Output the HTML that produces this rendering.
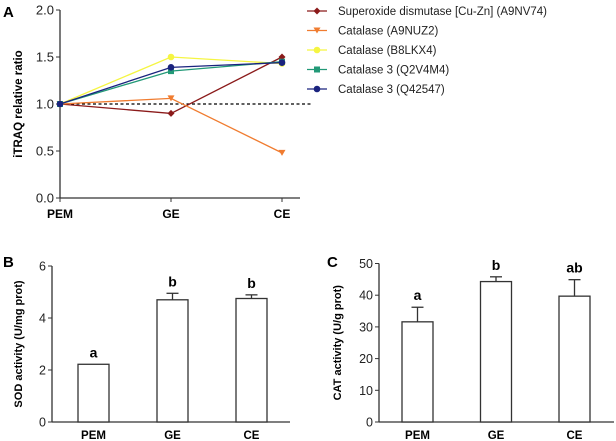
<!DOCTYPE html>
<html><head><meta charset="utf-8"><style>
body{margin:0;background:#fff;}
svg{display:block;font-family:"Liberation Sans",Arial,sans-serif;}
</style></head><body>
<svg id="fig" width="616" height="441" viewBox="0 0 616 441"></svg>
<script>
const lineCats=["PEM","GE","CE"];
const seriesNames=["Superoxide dismutase [Cu-Zn] (A9NV74)","Catalase (A9NUZ2)","Catalase (B8LKX4)","Catalase 3 (Q2V4M4)","Catalase 3 (Q42547)"];
const seriesColors=["#8b1a1a","#f07c30","#f5f542","#229977","#1a237e"];
const seriesMarkers=["diamond","tri","circle","square","circle"];
const sodVals=[1,0.9,1.5];
const catA9NUZ2=[1,1.06,0.48];
const catB8LKX4=[1,1.5,1.43];
const cat3Q2V4M4=[1,1.35,1.45];
const cat3Q42547=[1,1.39,1.44];
const lineTicks=[0,0.5,1,1.5,2];
const barCats=["PEM","GE","CE"];
const sodMeans=[2.22,4.7,4.75];
const sodErr=[0,0.25,0.14];
const sodLetters=["a","b","b"];
const sodTicks=[0,2,4,6];
const catMeans=[31.6,44.3,39.7];
const catErr=[4.6,1.5,5.2];
const catLetters=["a","b","ab"];
const catTicks=[0,10,20,30,40,50];

const svg=document.getElementById('fig');
const NS="http://www.w3.org/2000/svg";
function mk(tag,attrs,parent){const e=document.createElementNS(NS,tag);for(const k in attrs)e.setAttribute(k,attrs[k]);(parent||svg).appendChild(e);return e;}
function txt(x,y,s,attrs){const e=mk('text',Object.assign({x:x,y:y},attrs));e.textContent=s;return e;}

// Panel A
const ax={x0:60,x1:300,y0:198,y1:10,min:0,max:2};
const yA=v=>ax.y0-(v-ax.min)/(ax.max-ax.min)*(ax.y0-ax.y1);
const xA=i=>60+i*111;
let t=txt(3,17,"A",{'font-size':15,'font-weight':'bold'});

let g=mk('line',{x1:ax.x0,y1:ax.y1,x2:ax.x0,y2:ax.y0,stroke:'#333','stroke-width':1.3});

g=mk('line',{x1:ax.x0,y1:ax.y0,x2:ax.x1,y2:ax.y0,stroke:'#333','stroke-width':1.3});

lineTicks.forEach(v=>{mk('line',{x1:ax.x0-4,y1:yA(v),x2:ax.x0,y2:yA(v),stroke:'#333'});
 const e=txt(ax.x0-6,yA(v)+4.5,v.toFixed(1),{'font-size':13,'text-anchor':'end',fill:'#222'});
 });
lineCats.forEach((c,i)=>{mk('line',{x1:xA(i),y1:ax.y0,x2:xA(i),y2:ax.y0+4,stroke:'#333'});
 const e=txt(xA(i),ax.y0+20,c,{'font-size':12,'font-weight':'bold','text-anchor':'middle'});
 });
t=txt(0,0,"iTRAQ relative ratio",{'font-size':11.5,'font-weight':'bold','text-anchor':'middle',transform:'translate(22,104) rotate(-90)'});

g=mk('line',{x1:ax.x0,y1:yA(1),x2:ax.x1+12,y2:yA(1),stroke:'#000','stroke-width':1.3,'stroke-dasharray':'3,2.5'});

function marker(type,x,y,col,parent){
 if(type==='diamond')return mk('polygon',{points:`${x},${y-3.5} ${x+3.5},${y} ${x},${y+3.5} ${x-3.5},${y}`,fill:col},parent);
 if(type==='tri')return mk('polygon',{points:`${x-3.5},${y-3} ${x+3.5},${y-3} ${x},${y+3}`,fill:col},parent);
 if(type==='square')return mk('rect',{x:x-3,y:y-3,width:6,height:6,fill:col},parent);
 return mk('circle',{cx:x,cy:y,r:3.3,fill:col},parent);
}
const allSeries=[sodVals,catA9NUZ2,catB8LKX4,cat3Q2V4M4,cat3Q42547];
allSeries.forEach((vals,s)=>{
 const grp=mk('g',{});
 
 mk('polyline',{points:vals.map((v,i)=>xA(i)+','+yA(v)).join(' '),fill:'none',stroke:seriesColors[s],'stroke-width':1.3},grp);
 vals.forEach((v,i)=>{const m=marker(seriesMarkers[s],xA(i),yA(v),seriesColors[s],grp);
  });
});
seriesNames.forEach((n,s)=>{
 const y=11+s*19.5;
 const grp=mk('g',{});
 
 mk('line',{x1:307,y1:y,x2:327,y2:y,stroke:seriesColors[s],'stroke-width':1.3},grp);
 marker(seriesMarkers[s],317,y,seriesColors[s],grp);
 const e=txt(338,y+4,n,{'font-size':11.5,fill:'#222'},grp);grp.appendChild(e);
});

// Bar panels
function barPanel(cfg){
 const yS=v=>cfg.y0-v/cfg.max*(cfg.y0-cfg.y1);
 let e=txt(cfg.lx,cfg.ly,cfg.label,{'font-size':15,'font-weight':'bold'});
 
 e=mk('line',{x1:cfg.x0,y1:cfg.y1,x2:cfg.x0,y2:cfg.y0,stroke:'#333','stroke-width':1.3});
 
 e=mk('line',{x1:cfg.x0,y1:cfg.y0,x2:cfg.xEnd,y2:cfg.y0,stroke:'#333','stroke-width':1.3});
 
 cfg.ticks.forEach(v=>{mk('line',{x1:cfg.x0-4,y1:yS(v),x2:cfg.x0,y2:yS(v),stroke:'#333'});
  const l=txt(cfg.x0-6,yS(v)+4.5,String(v),{'font-size':12.5,'text-anchor':'end',fill:'#222'});
  });
 e=txt(0,0,cfg.title,{'font-size':11,'font-weight':'bold','text-anchor':'middle',transform:`translate(${cfg.tx},${(cfg.y0+cfg.y1)/2}) rotate(-90)`});
 
 cfg.cats.forEach((c,i)=>{
  const bx=cfg.bx[0]+i*cfg.step, w=31, cx=bx+w/2;
  const top=yS(cfg.means[i]);
  const r=mk('rect',{x:bx,y:top,width:w,height:cfg.y0-top,fill:'#fff',stroke:'#333','stroke-width':1.3});
  
  const et=yS(cfg.means[i]+cfg.err[i]);
  if(cfg.err[i]>0){mk('line',{x1:cx,y1:top,x2:cx,y2:et,stroke:'#333','stroke-width':1.3});
   mk('line',{x1:cx-6,y1:et,x2:cx+6,y2:et,stroke:'#333','stroke-width':1.3});}
  const L=txt(cx,et-7,cfg.letters[i],{'font-size':14,'font-weight':'bold','text-anchor':'middle'});
  
  const X=txt(cx,cfg.y0+17,c,{'font-size':11.5,'font-weight':'bold','text-anchor':'middle'});
  
 });
}
barPanel({key:'sod',label:'B',lx:3,ly:267,x0:52,xEnd:290,y0:422,y1:266,max:6,ticks:sodTicks,means:sodMeans,err:sodErr,letters:sodLetters,cats:barCats,bx:[78],step:79,title:'SOD activity (U/mg prot)',tx:22});
barPanel({key:'cat',label:'C',lx:327,ly:267,x0:379,xEnd:614,y0:422,y1:263.5,max:50,ticks:catTicks,means:catMeans,err:catErr,letters:catLetters,cats:barCats,bx:[402],step:78.5,title:'CAT activity (U/g prot)',tx:341});
</script>
</body></html>
